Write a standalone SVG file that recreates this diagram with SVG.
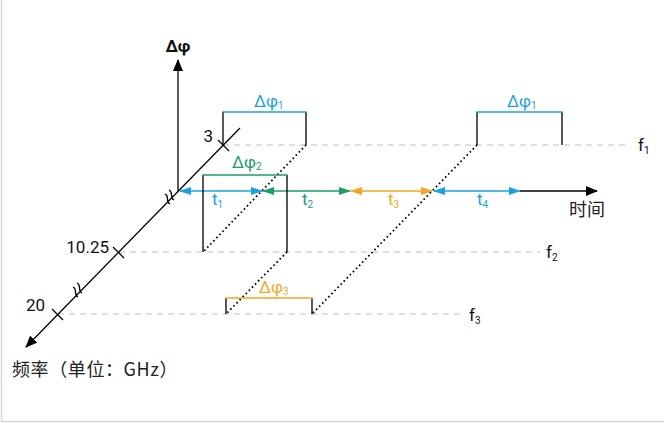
<svg xmlns="http://www.w3.org/2000/svg" width="664" height="423" viewBox="0 0 664 423">
<style>
.ax{stroke:#000;stroke-width:1.3;fill:none}
.pl{stroke:#000;stroke-width:1.3;fill:none}
.dash{stroke:#bcc0c4;stroke-width:1.2;stroke-dasharray:6 5;fill:none}
.dot{stroke:#000;stroke-width:1.8;stroke-dasharray:1.6 2.8;fill:none}
.t{font-family:Roboto,"Liberation Sans",sans-serif;font-size:17px;fill:#111}
.cjk{font-family:"Noto Sans CJK SC",sans-serif;font-size:18px;fill:#222}
.blue{fill:#1ba1e2}.green{fill:#1e9c6c}.orange{fill:#f5a623}
</style>
<defs>
<marker id="ak" viewBox="0 0 12 10" refX="11" refY="5" markerWidth="12" markerHeight="10" markerUnits="userSpaceOnUse" orient="auto"><path d="M0,0 L12,5 L0,10 Z" fill="#000"/></marker>
<marker id="ab" viewBox="0 0 12 8" refX="11" refY="4" markerWidth="12" markerHeight="8" markerUnits="userSpaceOnUse" orient="auto-start-reverse"><path d="M0,0 L12,4 L0,8 Z" fill="#1ba1e2"/></marker>
<marker id="ag" viewBox="0 0 12 8" refX="11" refY="4" markerWidth="12" markerHeight="8" markerUnits="userSpaceOnUse" orient="auto-start-reverse"><path d="M0,0 L12,4 L0,8 Z" fill="#1e9c6c"/></marker>
<marker id="ao" viewBox="0 0 12 8" refX="11" refY="4" markerWidth="12" markerHeight="8" markerUnits="userSpaceOnUse" orient="auto-start-reverse"><path d="M0,0 L12,4 L0,8 Z" fill="#f5a623"/></marker>
</defs>
<rect x="0" y="0" width="664" height="423" fill="#fff"/>
<path d="M1.5,0 V421.5 H664" stroke="#d3d6da" stroke-width="1.5" fill="none"/>

<g id="gridlines">
<line class="dash" x1="223" y1="145" x2="630" y2="145"/>
<line class="dash" x1="119" y1="252" x2="540" y2="252"/>
<line class="dash" x1="58" y1="314" x2="463" y2="314"/>
</g>

<g id="connectors">
<line class="dot" x1="306" y1="145" x2="203" y2="252"/>
<line class="dot" x1="287" y1="252" x2="226" y2="314"/>
<line class="dot" x1="477" y1="145" x2="312" y2="314"/>
</g>

<g id="axes">
<line class="ax" x1="178" y1="191" x2="178" y2="60" marker-end="url(#ak)"/>
<line class="ax" x1="520" y1="191" x2="597" y2="191" marker-end="url(#ak)"/>
<line class="ax" x1="240" y1="128" x2="26" y2="347" marker-end="url(#ak)"/>
<line class="ax" x1="218" y1="140" x2="229" y2="151"/>
<line class="ax" x1="113" y1="247" x2="124" y2="258"/>
<line class="ax" x1="52" y1="309" x2="63" y2="320"/>
<path class="ax" stroke-width="2" d="M168,194 C173,196 168,201 173,204 M164,198 C169,200 164,205 169,208" transform="translate(1,-4)"/>
<path class="ax" stroke-width="2" d="M168,194 C173,196 168,201 173,204 M164,198 C169,200 164,205 169,208" transform="translate(-91,89)"/>
<text class="t" x="178" y="52" text-anchor="middle" font-weight="bold" font-size="18">Δφ</text>
<text class="t" x="213" y="142" text-anchor="end">3</text>
<text class="t" x="109" y="253" text-anchor="end">10.25</text>
<text class="t" x="45" y="311" text-anchor="end">20</text>
<text class="cjk" x="569" y="216">时间</text>
<text class="cjk" x="12" y="376" letter-spacing="0.6">频率（单位：GHz）</text>
</g>

<g id="times">
<line stroke="#1ba1e2" stroke-width="1.5" x1="180" y1="191" x2="262" y2="191" marker-start="url(#ab)" marker-end="url(#ab)"/>
<line stroke="#1e9c6c" stroke-width="1.5" x1="263" y1="191" x2="350" y2="191" marker-start="url(#ag)" marker-end="url(#ag)"/>
<line stroke="#f5a623" stroke-width="1.5" x1="351" y1="191" x2="432" y2="191" marker-start="url(#ao)" marker-end="url(#ao)"/>
<line stroke="#1ba1e2" stroke-width="1.5" x1="434" y1="191" x2="520" y2="191" marker-start="url(#ab)" marker-end="url(#ab)"/>
<text class="t blue" x="212" y="205">t<tspan font-size="10" dy="3">1</tspan></text>
<text class="t green" x="302" y="205">t<tspan font-size="10" dy="3">2</tspan></text>
<text class="t orange" x="388" y="205">t<tspan font-size="10" dy="3">3</tspan></text>
<text class="t blue" x="477" y="205">t<tspan font-size="10" dy="3">4</tspan></text>
</g>

<g id="pulse1">
<path class="pl" d="M223,145 V112 M306,112 V145"/>
<line stroke="#1ba1e2" stroke-width="1.6" x1="222.4" y1="112" x2="306.6" y2="112"/>
<text class="t blue" x="254" y="107">Δφ<tspan font-size="10" dy="2">1</tspan></text>
</g>
<g id="pulse2">
<path class="pl" d="M203,252 V175 M287,175 V252"/>
<line stroke="#1e9c6c" stroke-width="1.6" x1="202.4" y1="175" x2="287.6" y2="175"/>
<text class="t green" x="232" y="168">Δφ<tspan font-size="10" dy="2">2</tspan></text>
</g>
<g id="pulse3">
<path class="pl" d="M226,314 V298 M312,298 V314"/>
<line stroke="#f5a623" stroke-width="1.6" x1="225.4" y1="298" x2="312.6" y2="298"/>
<text class="t orange" x="259" y="293">Δφ<tspan font-size="10" dy="2">3</tspan></text>
</g>
<g id="pulse4">
<path class="pl" d="M477,145 V112 M562,112 V145"/>
<line stroke="#1ba1e2" stroke-width="1.6" x1="476.4" y1="112" x2="562.6" y2="112"/>
<text class="t blue" x="507" y="107">Δφ<tspan font-size="10" dy="2">1</tspan></text>
</g>

<g id="labels">
<text class="t" x="638" y="151">f<tspan font-size="10" dy="3">1</tspan></text>
<text class="t" x="546" y="258">f<tspan font-size="10" dy="3">2</tspan></text>
<text class="t" x="469" y="321">f<tspan font-size="10" dy="3">3</tspan></text>
</g>
</svg>
